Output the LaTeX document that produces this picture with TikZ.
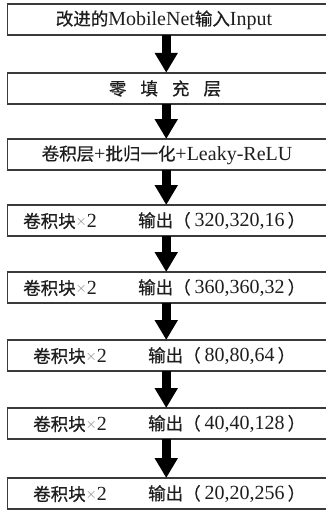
\documentclass[tikz,border=0pt]{standalone}
\usepackage{fontspec}
\setmainfont{Liberation Serif}
\newfontfamily\cjk[FakeBold=0.6]{Noto Sans CJK SC}
\usetikzlibrary{arrows.meta}
\definecolor{ink}{HTML}{1E1E1E}
\definecolor{edge}{HTML}{3A3A3A}
\newcommand{\zh}[1]{{\cjk\fontsize{17.5}{20}\selectfont #1}}
\newcommand{\tms}{\fontsize{20}{22}\selectfont}
\newcommand{\xx}{{\color{gray}\fontsize{14}{15}\selectfont\raisebox{2pt}{$\times$}}}
\newcommand{\outp}[1]{\zh{输出（}\hspace{4pt}#1\hspace{3pt}\zh{）}}
\begin{document}
\begin{tikzpicture}[x=1pt,y=-1pt,
  box/.style={draw=edge,line width=1.8pt,fill=white,inner sep=0pt,outer sep=0pt,text=ink,
    minimum width=320.5pt,minimum height=31pt},
  lbl/.style={anchor=west,inner sep=0pt,text=ink,font=\tms},
  ctr/.style={inner sep=0pt,text=ink,font=\tms},
  flow/.style={draw=black,line width=9pt,-{Triangle[width=22pt,length=20pt]}}]
\useasboundingbox (0,0) rectangle (325,512);
\fill[white] (0,0) rectangle (325,512);
% boxes
\node[box] (b1) at (167.75,19.75) {};
\node[box] (b2) at (167.75,88.25) {};
\node[box] (b3) at (167.75,154.5) {};
\node[box] (b4) at (167.75,220.5) {};
\node[box] (b5) at (167.75,287.5) {};
\node[box] (b6) at (167.75,355.5) {};
\node[box] (b7) at (167.75,423.5) {};
\node[box] (b8) at (167.75,493.5) {};
% texts
\node[ctr] (t1) at (164,20) {\zh{改进的}MobileNet\zh{输入}Input};
\node[ctr] (t2) at (165,88.5) {\zh{零\hspace{0.8em}填\hspace{0.8em}充\hspace{0.8em}层}};
\node[ctr] (t3) at (167,155) {\zh{卷积层}+\zh{批归一化}+Leaky-ReLU};
\node[lbl] (l4) at (23,221) {\zh{卷积块}\xx 2};
\node[lbl] (r4) at (138,221) {\outp{320,320,16}};
\node[lbl] (l5) at (23,288) {\zh{卷积块}\xx 2};
\node[lbl] (r5) at (138,288) {\outp{360,360,32}};
\node[lbl] (l6) at (33,356) {\zh{卷积块}\xx 2};
\node[lbl] (r6) at (148,356) {\outp{80,80,64}};
\node[lbl] (l7) at (33,424) {\zh{卷积块}\xx 2};
\node[lbl] (r7) at (148,424) {\outp{40,40,128}};
\node[lbl] (l8) at (33,494) {\zh{卷积块}\xx 2};
\node[lbl] (r8) at (148,494) {\outp{20,20,256}};
% arrows
\foreach \a/\b in {b1/b2,b2/b3,b3/b4,b4/b5,b5/b6,b6/b7,b7/b8}
  \draw[flow] ([xshift=-1.5pt]\a.south) -- ([xshift=-1.5pt]\b.north);
\end{tikzpicture}
\end{document}
